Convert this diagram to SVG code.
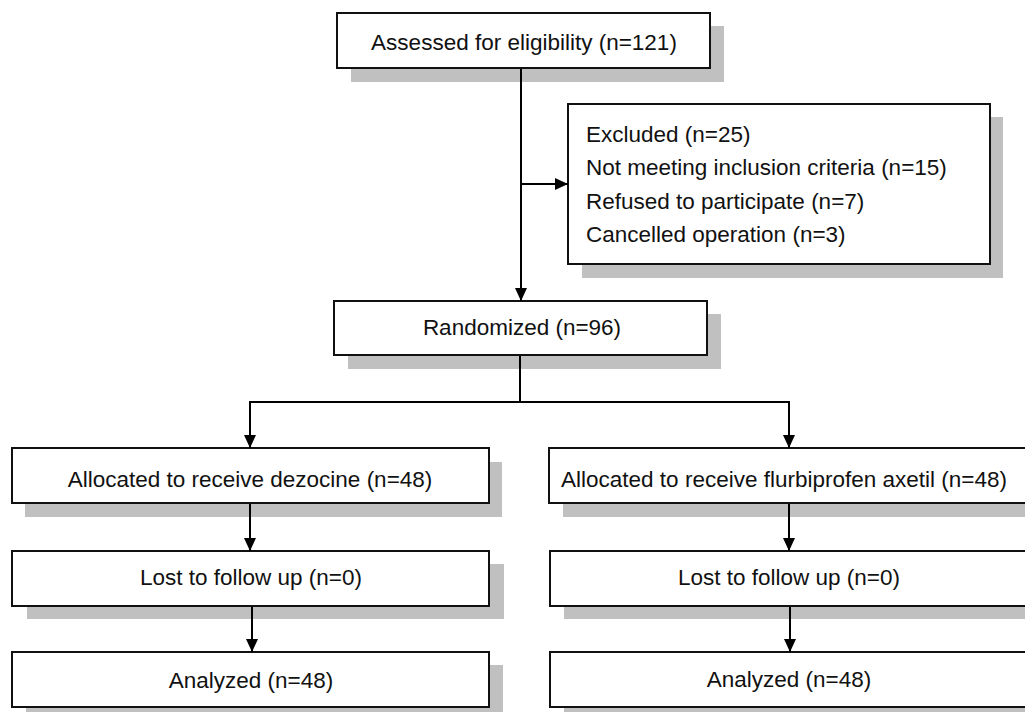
<svg xmlns="http://www.w3.org/2000/svg" width="1025" height="712" viewBox="0 0 1025 712">
<style>
.sh{fill:#c0c0c0;stroke:none}
.bx{fill:#fff;stroke:#111;stroke-width:2}
.t{font-family:"Liberation Sans",Arial,sans-serif;font-size:22.5px;fill:#111}
.c{text-anchor:middle}
.ln{fill:none;stroke:#000;stroke-width:2}
</style>
<defs>
<marker id="ah" markerUnits="userSpaceOnUse" markerWidth="14" markerHeight="14" viewBox="0 0 14 14" refX="13" refY="7" orient="auto">
<path d="M0,1 L13,7 L0,13 Z" fill="#000"/>
</marker>
</defs>
<rect width="1025" height="712" fill="#fff"/>
<g id="assessed">
<rect class="sh" x="351" y="26" width="373" height="56"/>
<rect class="bx" x="337" y="13" width="373" height="55"/>
<text class="t c" x="524" y="50">Assessed for eligibility (n=121)</text>
</g>
<g id="excluded">
<rect class="sh" x="582" y="117" width="421" height="161"/>
<rect class="bx" x="568" y="104" width="422" height="160"/>
<text class="t" x="586" y="141.5">Excluded (n=25)</text>
<text class="t" x="586" y="175">Not meeting inclusion criteria (n=15)</text>
<text class="t" x="586" y="208.5">Refused to participate (n=7)</text>
<text class="t" x="586" y="242">Cancelled operation (n=3)</text>
</g>
<g id="randomized">
<rect class="sh" x="348" y="314" width="373" height="55"/>
<rect class="bx" x="334" y="301" width="373" height="54"/>
<text class="t c" x="522" y="335">Randomized (n=96)</text>
</g>
<g id="alloc-dezocine">
<rect class="sh" x="25" y="462" width="477" height="55"/>
<rect class="bx" x="12" y="448" width="477" height="55"/>
<text class="t c" x="250" y="487">Allocated to receive dezocine (n=48)</text>
</g>
<g id="alloc-flurbiprofen">
<rect class="sh" x="563" y="462" width="477" height="55"/>
<rect class="bx" x="549" y="448" width="477" height="55"/>
<text class="t c" x="784" y="487">Allocated to receive flurbiprofen axetil (n=48)</text>
</g>
<g id="lost-left">
<rect class="sh" x="27" y="564" width="477" height="55"/>
<rect class="bx" x="12" y="551" width="477" height="55"/>
<text class="t c" x="251" y="585">Lost to follow up (n=0)</text>
</g>
<g id="lost-right">
<rect class="sh" x="564" y="564" width="477" height="55"/>
<rect class="bx" x="550" y="551" width="477" height="55"/>
<text class="t c" x="789" y="585">Lost to follow up (n=0)</text>
</g>
<g id="analyzed-left">
<rect class="sh" x="26" y="665" width="477" height="55"/>
<rect class="bx" x="12" y="652" width="477" height="55"/>
<text class="t c" x="251" y="688">Analyzed (n=48)</text>
</g>
<g id="analyzed-right">
<rect class="sh" x="564" y="665" width="477" height="55"/>
<rect class="bx" x="550" y="652" width="477" height="55"/>
<text class="t c" x="789" y="687">Analyzed (n=48)</text>
</g>
<g id="connectors">
<line class="ln" x1="521" y1="69" x2="521" y2="301" marker-end="url(#ah)"/>
<line class="ln" x1="521" y1="184" x2="568" y2="184" marker-end="url(#ah)"/>
<line class="ln" x1="520" y1="356" x2="520" y2="402"/>
<line class="ln" x1="249" y1="402" x2="790" y2="402"/>
<line class="ln" x1="250" y1="401" x2="250" y2="448" marker-end="url(#ah)"/>
<line class="ln" x1="789" y1="401" x2="789" y2="448" marker-end="url(#ah)"/>
<line class="ln" x1="250" y1="504" x2="250" y2="551" marker-end="url(#ah)"/>
<line class="ln" x1="789" y1="504" x2="789" y2="551" marker-end="url(#ah)"/>
<line class="ln" x1="252" y1="607" x2="252" y2="652" marker-end="url(#ah)"/>
<line class="ln" x1="790" y1="607" x2="790" y2="652" marker-end="url(#ah)"/>
</g>
</svg>
